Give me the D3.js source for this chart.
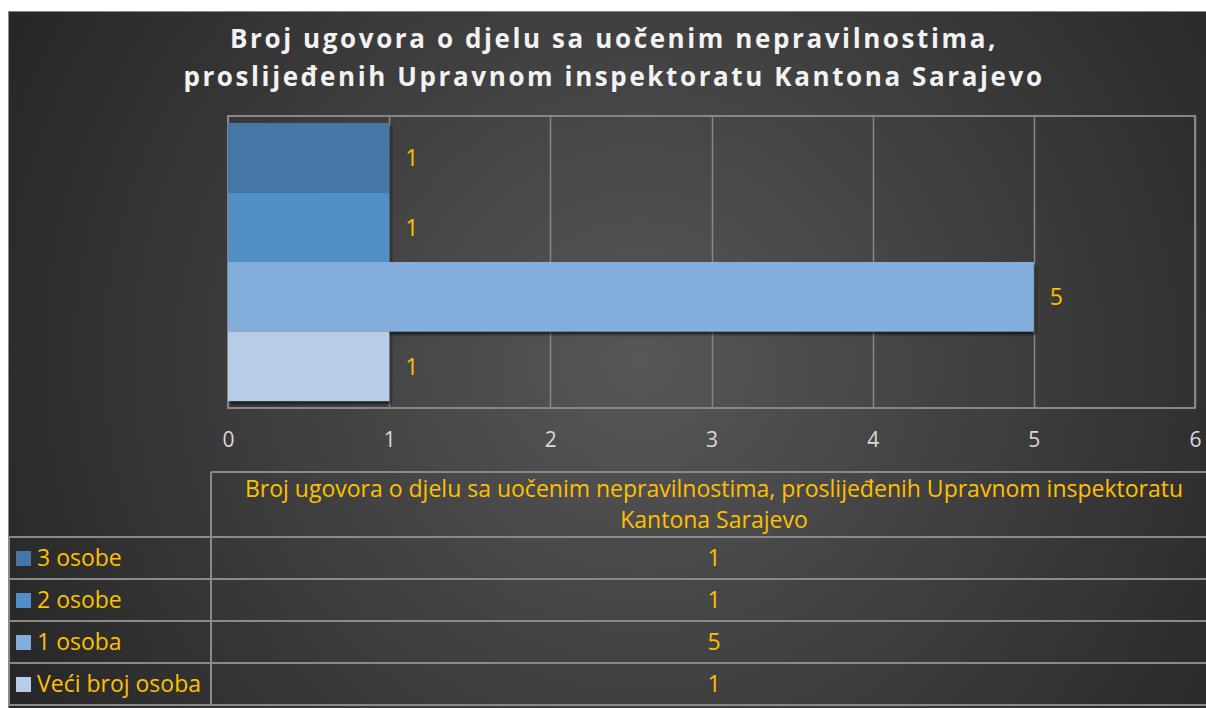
<!DOCTYPE html>
<html>
<head>
<meta charset="utf-8">
<script src="https://cdn.jsdelivr.net/npm/d3@7"></script>
<style>
  html, body { margin: 0; padding: 0; background: #fff; }
  svg { display: block; }
</style>
</head>
<body>
<div id="chart"></div>
<script>
// chart data
const titleLines = ["Broj ugovora o djelu sa uočenim nepravilnostima,", "proslijeđenih Upravnom inspektoratu Kantona Sarajevo"];
const seriesLines = ["Broj ugovora o djelu sa uočenim nepravilnostima, proslijeđenih Upravnom inspektoratu", "Kantona Sarajevo"];
const categories = ["3 osobe", "2 osobe", "1 osoba", "Veći broj osoba"];
const values = [1, 1, 5, 1];
const xTicks = [0, 1, 2, 3, 4, 5, 6];

const width = 1206, height = 708;
const gold = "#FFC000";
const gridCol = "#878787";
const font = "'Open Sans', sans-serif";

const svg = d3.select("#chart").append("svg")
    .attr("width", width)
    .attr("height", height);

const defs = svg.append("defs");
const grad = defs.append("radialGradient")
    .attr("id", "bg")
    .attr("gradientUnits", "userSpaceOnUse")
    .attr("cx", 640).attr("cy", 360).attr("r", 720);
grad.append("stop").attr("offset", "0%").attr("stop-color", "#575757");
grad.append("stop").attr("offset", "100%").attr("stop-color", "#262626");

const shadow = defs.append("filter").attr("id", "shadow")
    .attr("x", "-10%").attr("y", "-10%").attr("width", "130%").attr("height", "130%");
shadow.append("feDropShadow")
    .attr("dx", 2).attr("dy", 3).attr("stdDeviation", 1.5)
    .attr("flood-color", "#000").attr("flood-opacity", 0.6);

// chart area
svg.append("rect")
    .attr("x", 8.5).attr("y", 11.5)
    .attr("width", width).attr("height", height)
    .attr("fill", "url(#bg)")
    .attr("stroke", "#8a8a8a");

// title
svg.append("text")
    .attr("text-anchor", "middle")
    .attr("font-family", font)
    .attr("font-weight", "bold")
    .attr("font-size", 26)
    .attr("letter-spacing", 2.6)
    .attr("fill", "#f2f2f2")
    .selectAll("tspan")
    .data(titleLines)
    .join("tspan")
        .attr("x", 614)
        .attr("y", (d, i) => 48 + i * 38)
        .text(d => d);

// plot area
const plot = {left: 228, right: 1195, top: 116, bottom: 408};

const x = d3.scaleLinear()
    .domain([0, 6])
    .range([plot.left, plot.right]);

const y = d3.scaleBand()
    .domain(categories)
    .range([plot.top, plot.bottom])
    .paddingInner(0)
    .paddingOuter(0.1);

const color = d3.scaleOrdinal()
    .domain(categories)
    .range(["#4576A5", "#528FC7", "#84AEDC", "#B7CCE7"]);

// gridlines
svg.append("g")
    .selectAll("line")
    .data(xTicks)
    .join("line")
        .attr("x1", d => Math.round(x(d)) + 0.5)
        .attr("x2", d => Math.round(x(d)) + 0.5)
        .attr("y1", plot.top)
        .attr("y2", plot.bottom)
        .attr("stroke", gridCol)
        .attr("stroke-width", 1.5);

svg.append("rect")
    .attr("x", plot.left).attr("y", plot.top)
    .attr("width", plot.right - plot.left)
    .attr("height", plot.bottom - plot.top)
    .attr("fill", "none")
    .attr("stroke", gridCol)
    .attr("stroke-width", 2);

// bars
svg.append("g")
    .selectAll("rect")
    .data(categories)
    .join("rect")
        .attr("x", x(0))
        .attr("y", d => y(d))
        .attr("width", (d, i) => x(values[i]) - x(0))
        .attr("height", y.bandwidth())
        .attr("fill", d => color(d))
        .attr("filter", "url(#shadow)");

// data labels
svg.append("g")
    .selectAll("text")
    .data(categories)
    .join("text")
        .attr("x", (d, i) => x(values[i]) + 16)
        .attr("y", d => y(d) + y.bandwidth() / 2)
        .attr("dy", "0.36em")
        .attr("font-family", font)
        .attr("font-size", 23)
        .attr("fill", gold)
        .text((d, i) => values[i]);

// x axis
const xAxis = svg.append("g")
    .attr("transform", `translate(0, ${plot.bottom})`)
    .call(d3.axisBottom(x).tickValues(xTicks).tickFormat(d3.format("d")).tickSize(0).tickPadding(24));
xAxis.select(".domain").remove();
xAxis.selectAll("text")
    .attr("font-family", font)
    .attr("font-size", 21)
    .attr("fill", "#d9d9d9");

// data table
const table = {left: 8, split: 211, right: 1212, head: 472, top: 537, bottom: 705};
const row = d3.scaleBand()
    .domain(categories)
    .range([table.top, table.bottom]);

const tg = svg.append("g")
    .attr("stroke", "#8a8a8a")
    .attr("stroke-width", 2);

tg.append("line")
    .attr("x1", table.split).attr("x2", table.right)
    .attr("y1", table.head).attr("y2", table.head);
tg.append("line")
    .attr("x1", table.split).attr("x2", table.split)
    .attr("y1", table.head).attr("y2", table.bottom);
tg.selectAll(".hl")
    .data(categories.concat(["end"]))
    .join("line")
        .attr("class", "hl")
        .attr("x1", table.left).attr("x2", table.right)
        .attr("y1", d => d === "end" ? table.bottom : row(d))
        .attr("y2", d => d === "end" ? table.bottom : row(d));
tg.append("line")
    .attr("x1", table.left + 1).attr("x2", table.left + 1)
    .attr("y1", table.top).attr("y2", table.bottom);

const midX = 714;

svg.append("text")
    .attr("text-anchor", "middle")
    .attr("font-family", font)
    .attr("font-size", 23)
    .attr("fill", gold)
    .selectAll("tspan")
    .data(seriesLines)
    .join("tspan")
        .attr("x", midX)
        .attr("y", (d, i) => 497 + i * 31)
        .text(d => d);

const rows = svg.append("g")
    .selectAll("g")
    .data(categories)
    .join("g")
        .attr("transform", d => `translate(0, ${row(d) + row.bandwidth() / 2})`);

rows.append("rect")
    .attr("x", 16).attr("y", -7)
    .attr("width", 15).attr("height", 15)
    .attr("fill", d => color(d));

rows.append("text")
    .attr("x", 37)
    .attr("dy", "0.36em")
    .attr("font-family", font)
    .attr("font-size", 23)
    .attr("fill", gold)
    .text(d => d);

rows.append("text")
    .attr("x", midX)
    .attr("dy", "0.36em")
    .attr("text-anchor", "middle")
    .attr("font-family", font)
    .attr("font-size", 23)
    .attr("fill", gold)
    .text((d, i) => values[i]);
</script>
</body>
</html>
